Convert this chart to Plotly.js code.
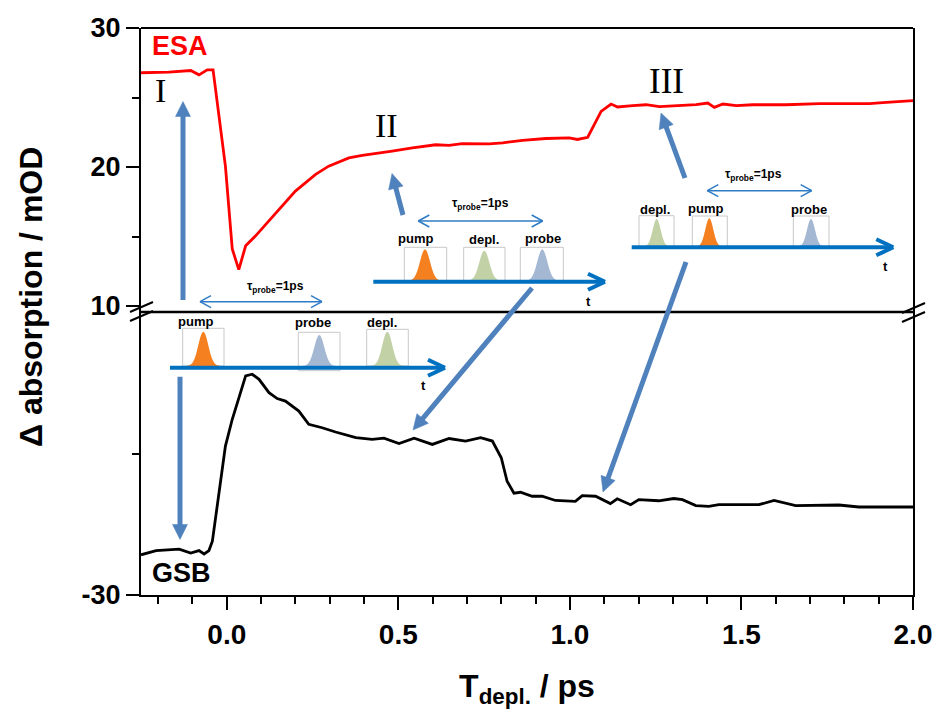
<!DOCTYPE html>
<html>
<head>
<meta charset="utf-8">
<script src="https://cdn.plot.ly/plotly-3.0.1.min.js"></script>
<style>html,body{margin:0;padding:0;background:#fff;}#chart{width:939px;height:711px;}</style>
</head>
<body>
<div id="chart"></div>
<script>
// ---------------- data ----------------
const esaT = [-0.25,-0.169,-0.105,-0.081,-0.057,-0.04,-0.004,0.016,0.035,0.055,0.084,0.152,0.2,0.259,0.297,0.356,0.395,0.482,0.541,0.609,0.648,0.686,0.735,0.765,0.804,0.862,0.93,0.998,1.022,1.052,1.071,1.091,1.12,1.139,1.183,1.222,1.261,1.31,1.368,1.402,1.421,1.446,1.485,1.533,1.63,1.728,1.873,1.912,2.0];
const esaV = [26.78,26.83,26.94,26.63,26.99,26.99,20.07,14.1,12.62,14.33,15.05,16.96,18.27,19.47,20.06,20.66,20.83,21.14,21.38,21.6,21.55,21.68,21.66,21.67,21.74,21.91,22.05,22.1,21.98,22.14,23.05,24.0,24.53,24.32,24.41,24.48,24.34,24.39,24.48,24.6,24.29,24.53,24.41,24.48,24.48,24.56,24.56,24.63,24.77];

const gsbT = [-0.25,-0.206,-0.139,-0.105,-0.081,-0.066,-0.052,-0.042,-0.004,0.016,0.04,0.055,0.074,0.094,0.123,0.147,0.171,0.21,0.239,0.278,0.317,0.376,0.424,0.458,0.502,0.546,0.599,0.648,0.696,0.74,0.774,0.8,0.817,0.837,0.856,0.89,0.919,0.958,1.016,1.036,1.075,1.118,1.138,1.177,1.201,1.259,1.303,1.328,1.367,1.405,1.434,1.551,1.595,1.658,1.784,1.842,2.0];
const gsbV = [-28.58,-28.43,-28.38,-28.52,-28.43,-28.55,-28.43,-28.1,-24.74,-23.79,-22.85,-22.26,-22.2,-22.38,-22.85,-23.06,-23.15,-23.5,-23.97,-24.09,-24.24,-24.44,-24.5,-24.46,-24.65,-24.46,-24.68,-24.47,-24.56,-24.44,-24.56,-25.15,-25.98,-26.4,-26.37,-26.51,-26.51,-26.66,-26.69,-26.49,-26.51,-26.77,-26.6,-26.81,-26.63,-26.67,-26.59,-26.63,-26.84,-26.87,-26.81,-26.81,-26.66,-26.84,-26.82,-26.89,-26.89];

const xTickVals = [0, 0.5, 1.0, 1.5, 2.0];
const xTickText = ['0.0', '0.5', '1.0', '1.5', '2.0'];
const topTickVals = [10, 20, 30];
const topTickText = ['10', '20', '30'];
const botTickVals = [-30];
const botTickText = ['-30'];

// ---------------- geometry helpers ----------------
const W = 939, H = 711;
const L = 141, R = 913, T = 28, B = 595;
const px = x => (x - L) / (R - L);
const py = y => (B - y) / (B - T);
const SPLIT = py(312);

const FONT = 'Liberation Sans, Arial, Helvetica, sans-serif';
const SERIF = 'Liberation Serif, Times New Roman, serif';
const BLUE = '#0070C0';
const THIN = '#2F7CC6';
const STEEL = '#4F81BD';

const shapes = [];
const annotations = [];

function line(x0, y0, x1, y1, color, width) {
  shapes.push({type: 'line', xref: 'paper', yref: 'paper',
    x0: px(x0), y0: py(y0), x1: px(x1), y1: py(y1),
    line: {color: color, width: width}});
}
function pathPx(pts, fill, lineColor, lw) {
  let d = pts.map((p, i) => (i ? 'L' : 'M') + px(p[0]).toFixed(5) + ',' + py(p[1]).toFixed(5)).join(' ') + ' Z';
  shapes.push({type: 'path', xref: 'paper', yref: 'paper', path: d,
    fillcolor: fill, line: {color: lineColor || fill, width: lw || 0}});
}
function rectPx(x0, x1, y0, y1, color) {
  shapes.push({type: 'rect', xref: 'paper', yref: 'paper',
    x0: px(x0), x1: px(x1), y0: py(y1), y1: py(y0),
    line: {color: color, width: 1}, fillcolor: 'rgba(0,0,0,0)'});
}
function text(t, x, y, size, opts) {
  opts = opts || {};
  annotations.push(Object.assign({xref: 'paper', yref: 'paper', x: px(x), y: py(y),
    text: t, showarrow: false, xanchor: 'center', yanchor: 'middle',
    font: {family: FONT, size: size, color: '#000', weight: 'bold'}}, opts));
}
function bigArrow(x0, y0, x1, y1) {
  const dx = x1 - x0, dy = y1 - y0, len = Math.hypot(dx, dy);
  const ux = dx / len, uy = dy / len;
  const hl = 15, hw = 7.5;
  const bx = x1 - ux * hl, by = y1 - uy * hl;
  line(x0, y0, bx + ux * 2, by + uy * 2, STEEL, 5);
  pathPx([[x1, y1], [bx - uy * hw, by + ux * hw], [bx + uy * hw, by - ux * hw]], STEEL, STEEL, 0.5);
}
function pulse(cx, base, peak, sigma, color) {
  const pts = [];
  for (let k = -3.6; k <= 3.6001; k += 0.2) {
    pts.push([cx + k * sigma, base - (base - peak) * Math.exp(-k * k / 2)]);
  }
  pathPx(pts, color, color, 0);
}
function timeArrow(x0, x1, y) {
  line(x0, y, x1 - 2, y, BLUE, 4);
  line(x1 - 17, y - 8, x1, y, BLUE, 4);
  line(x1 - 17, y + 8, x1, y, BLUE, 4);
}
function dblArrow(x0, x1, y) {
  line(x0, y, x1, y, THIN, 1.5);
  line(x0, y, x0 + 11, y - 6, THIN, 1.5);
  line(x0, y, x0 + 11, y + 6, THIN, 1.5);
  line(x1, y, x1 - 11, y - 6, THIN, 1.5);
  line(x1, y, x1 - 11, y + 6, THIN, 1.5);
}
const PCOL = {pump: '#F5801F', probe: '#A5B8D3', 'depl.': '#C2D2A6'};
function inset(cfg) {
  text('τ<sub>probe</sub>=1ps', cfg.tau[0], cfg.tau[1], 12);
  dblArrow(cfg.dbl[0], cfg.dbl[1], cfg.dbl[2]);
  cfg.pulses.forEach(p => {
    rectPx(p.box[0], p.box[1], p.box[2], p.box[3], '#C8C8C8');
    pulse(p.cx, p.base, p.peak, p.sigma, PCOL[p.name]);
    text(p.name, p.label[0], p.label[1], 13);
  });
  timeArrow(cfg.arrow[0], cfg.arrow[1], cfg.arrow[2]);
  text('t', cfg.t[0], cfg.t[1], 13);
}

// ---------------- frame decorations ----------------
line(L, T, R, T, '#000', 2);          // top border
line(L, 312, R, 312, '#000', 2.5);    // break line
// break marks
line(130, 312, 153, 302, '#000', 2);
line(130, 321, 153, 311, '#000', 2);
line(902, 313, 925, 303, '#000', 2);
line(902, 322, 925, 312, '#000', 2);

// ---------------- insets ----------------
inset({tau: [275, 287], dbl: [200, 322, 301.7],
  pulses: [
    {name: 'pump', box: [182.7, 224, 328.3, 366], cx: 203.3, base: 366, peak: 331.7, sigma: 5, label: [195, 321.7]},
    {name: 'probe', box: [298.3, 340, 332.3, 370.7], cx: 319.3, base: 366, peak: 335, sigma: 5, label: [313.3, 322.3]},
    {name: 'depl.', box: [366.7, 408.3, 329.3, 366], cx: 387.3, base: 366, peak: 331.7, sigma: 5, label: [381.7, 322.3]}
  ],
  arrow: [170, 445, 367.7], t: [423.3, 385]});

inset({tau: [480, 204], dbl: [418.3, 542.7, 221],
  pulses: [
    {name: 'pump', box: [404.3, 446.7, 247.3, 280.5], cx: 425, base: 280.5, peak: 249.3, sigma: 5, label: [415, 238.3]},
    {name: 'depl.', box: [463.7, 505, 247.3, 280.5], cx: 484.3, base: 280.5, peak: 250.7, sigma: 5, label: [484, 239.3]},
    {name: 'probe', box: [520.3, 563.3, 247.3, 280.5], cx: 542.3, base: 280.5, peak: 249.3, sigma: 5, label: [542.7, 238.7]}
  ],
  arrow: [373.3, 605, 281.7], t: [588.3, 301.7]});

inset({tau: [753.3, 175], dbl: [707.3, 811.7, 190.7],
  pulses: [
    {name: 'depl.', box: [639, 674, 215.7, 246.5], cx: 656.7, base: 246.5, peak: 219, sigma: 4, label: [655, 209.3]},
    {name: 'pump', box: [692.3, 727.3, 216, 246.5], cx: 709.3, base: 246.5, peak: 218.3, sigma: 4, label: [705, 208.3]},
    {name: 'probe', box: [793.3, 829, 216, 246.5], cx: 811, base: 246.5, peak: 219, sigma: 4, label: [809, 209.3]}
  ],
  arrow: [631.7, 893.3, 247.3], t: [885, 266.7]});

// ---------------- big arrows ----------------
bigArrow(183, 300, 183, 101.5);
bigArrow(180, 376.7, 180, 539.5);
bigArrow(403, 215, 392, 173.5);
bigArrow(685, 178, 661, 113);
bigArrow(532, 288, 413, 430);
bigArrow(686, 262, 603, 492);

// ---------------- labels ----------------
text('ESA', 150, 46, 27, {xanchor: 'left', font: {family: FONT, size: 27, color: '#FF0000', weight: 'bold'}});
text('GSB', 150, 572.5, 27, {xanchor: 'left'});
text('I', 160, 90, 34, {font: {family: SERIF, size: 34, color: '#000'}});
text('II', 386, 125, 34, {font: {family: SERIF, size: 34, color: '#000'}});
text('III', 666, 81, 35, {font: {family: SERIF, size: 35, color: '#000'}});
text('Δ absorption / mOD', 31, 297, 32, {textangle: -90});

// ---------------- traces ----------------
const traces = [
  {x: esaT, y: esaV, xaxis: 'x2', yaxis: 'y2', type: 'scatter', mode: 'lines', name: 'ESA',
   line: {color: '#FF0000', width: 2.8}, hoverinfo: 'x+y'},
  {x: gsbT, y: gsbV, xaxis: 'x', yaxis: 'y', type: 'scatter', mode: 'lines', name: 'GSB',
   line: {color: '#000000', width: 2.8}, hoverinfo: 'x+y'}
];

const tickFont = {family: FONT, size: 28, color: '#000', weight: 'bold'};
const layout = {
  width: W, height: H,
  margin: {l: L, r: W - R, t: T, b: H - B, pad: 0},
  paper_bgcolor: '#fff', plot_bgcolor: '#fff',
  showlegend: false,
  xaxis: {domain: [0, 1], anchor: 'y', range: [-0.25, 2.0],
    tickmode: 'array', tickvals: xTickVals, ticktext: xTickText,
    ticks: 'outside', ticklen: 13, tickwidth: 2, tickcolor: '#000',
    minor: {tickmode: 'linear', tick0: 0, dtick: 0.1, ticks: 'outside', ticklen: 7, tickwidth: 2, tickcolor: '#000', showgrid: false},
    showline: true, linewidth: 2, linecolor: '#000', showgrid: false, zeroline: false,
    tickfont: tickFont, ticklabelstandoff: 0,
    title: {text: 'T<sub>depl.</sub> / ps', font: {family: FONT, size: 32, color: '#000', weight: 'bold'}, standoff: 26}},
  xaxis2: {domain: [0, 1], anchor: 'y2', matches: 'x', range: [-0.25, 2.0], visible: false},
  yaxis: {domain: [0, SPLIT], anchor: 'x', range: [-30, -20],
    tickmode: 'array', tickvals: botTickVals, ticktext: botTickText,
    ticks: 'outside', ticklen: 13, tickwidth: 2, tickcolor: '#000',
    minor: {tickmode: 'array', tickvals: [-25], ticks: 'outside', ticklen: 7, tickwidth: 2, tickcolor: '#000', showgrid: false},
    showline: true, linewidth: 2, linecolor: '#000', mirror: true, showgrid: false, zeroline: false,
    tickfont: {family: FONT, size: 27, color: '#000', weight: 'bold'}, ticklabelstandoff: 0},
  yaxis2: {domain: [SPLIT, 1], anchor: 'x2', range: [9.57, 30],
    tickmode: 'array', tickvals: topTickVals, ticktext: topTickText,
    ticks: 'outside', ticklen: 13, tickwidth: 2, tickcolor: '#000',
    minor: {tickmode: 'array', tickvals: [15, 25], ticks: 'outside', ticklen: 7, tickwidth: 2, tickcolor: '#000', showgrid: false},
    showline: true, linewidth: 2, linecolor: '#000', mirror: true, showgrid: false, zeroline: false,
    tickfont: {family: FONT, size: 27, color: '#000', weight: 'bold'}, ticklabelstandoff: 0},
  shapes: shapes,
  annotations: annotations
};

Plotly.newPlot('chart', traces, layout, {displayModeBar: false, staticPlot: true});
</script>
</body>
</html>
